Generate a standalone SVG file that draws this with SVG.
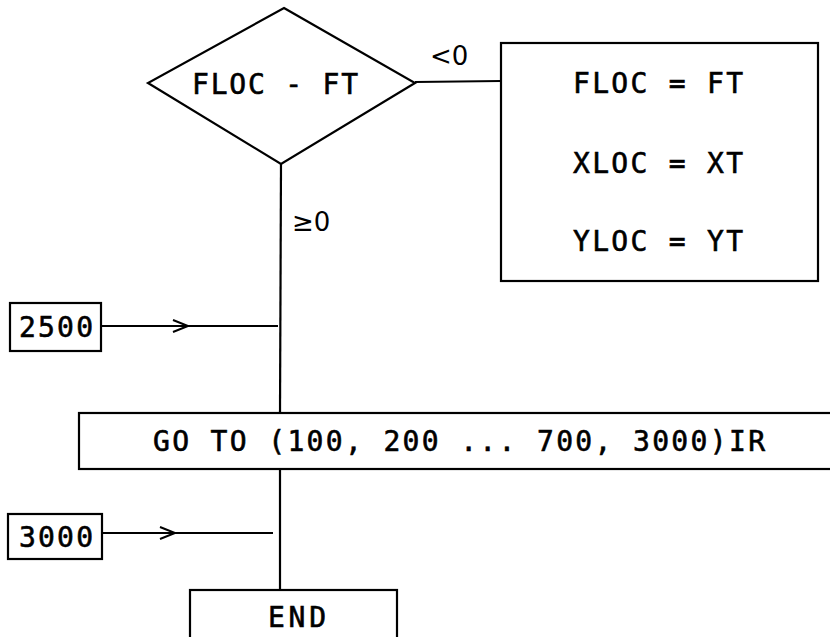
<svg xmlns="http://www.w3.org/2000/svg" width="830" height="637" viewBox="0 0 830 637">
<defs>
<style>
.shape{fill:none;stroke:#000;stroke-width:2.2}
.line{fill:none;stroke:#000;stroke-width:2.2}
.t{font-family:"DejaVu Sans Mono","Liberation Mono",monospace;font-size:28px;fill:#000;stroke:#000;stroke-width:0.6}
.hand{font-family:"DejaVu Sans","Liberation Sans",sans-serif;font-size:26px;fill:#000}
</style>
<marker id="chev" markerWidth="20" markerHeight="16" refX="16" refY="8" orient="auto" markerUnits="userSpaceOnUse">
<path d="M1 2 L16 8 L1 14" fill="none" stroke="#000" stroke-width="2"/>
</marker>
</defs>
<rect width="830" height="637" fill="#fff"/>
<g id="connectors">
<path class="line" d="M415 82 L501 81"/>
<path class="line" d="M281 164 L280 413"/>
<path class="line" d="M280 469 L280 590"/>
<path class="line" d="M101 326 L188 326 L278 326" marker-mid="url(#chev)"/>
<path class="line" d="M103 533 L175 533 L273 533" marker-mid="url(#chev)"/>
<text class="hand" x="430" y="65">&lt;0</text>
<text class="hand" x="292" y="231" font-size="31">≥0</text>
</g>
<g id="decision">
<polygon class="shape" points="284,8 415,83 281,164 148,83"/>
<text class="t" x="192" y="94" textLength="166">FLOC - FT</text>
</g>
<g id="assign">
<rect class="shape" x="501" y="43" width="317" height="238"/>
<text class="t" x="573" y="93" textLength="170">FLOC = FT</text>
<text class="t" x="573" y="173" textLength="170">XLOC = XT</text>
<text class="t" x="573" y="251" textLength="170">YLOC = YT</text>
</g>
<g id="label2500">
<rect class="shape" x="10" y="303" width="91" height="48"/>
<text class="t" x="19" y="337" textLength="74">2500</text>
</g>
<g id="goto">
<rect class="shape" x="79" y="413" width="780" height="56"/>
<text class="t" x="153" y="451" textLength="612">GO TO (100, 200 ... 700, 3000)IR</text>
</g>
<g id="label3000">
<rect class="shape" x="8" y="514" width="94" height="45"/>
<text class="t" x="19" y="547" textLength="74">3000</text>
</g>
<g id="end">
<rect class="shape" x="190" y="590" width="207" height="60"/>
<text class="t" x="268" y="627" textLength="58">END</text>
</g>
</svg>
